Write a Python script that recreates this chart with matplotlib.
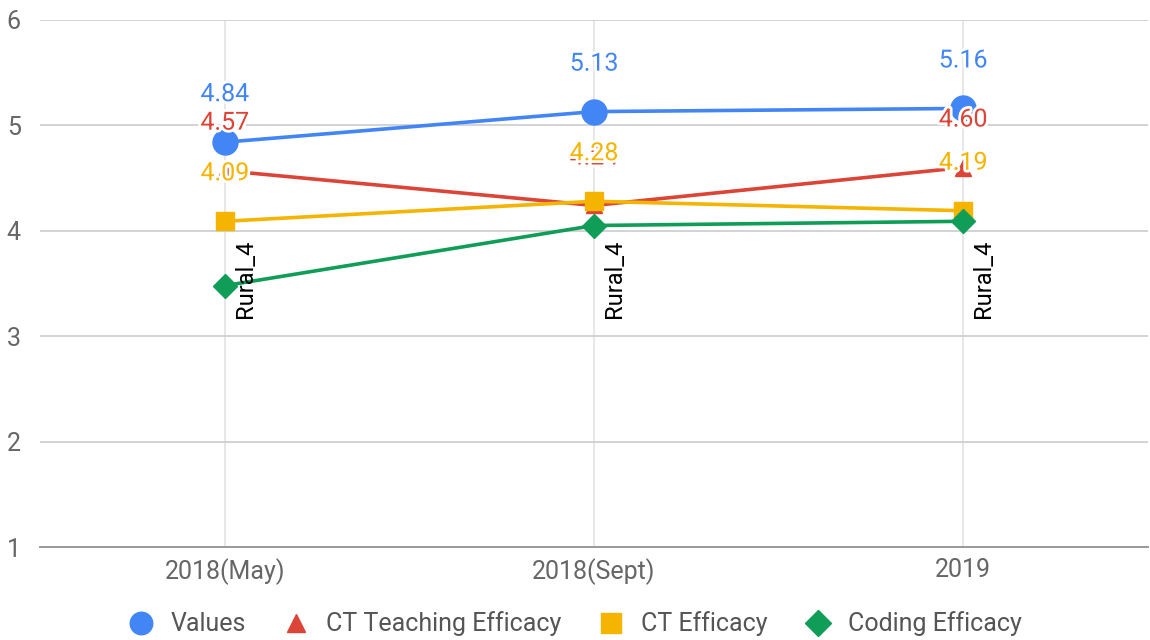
import matplotlib.pyplot as plt
import matplotlib.patheffects as pe
from matplotlib.lines import Line2D
import numpy as np

plt.rcParams['font.family'] = ['Roboto', 'DejaVu Sans']

## data

periods = ['2018(May)', '2018(Sept)', '2019']
values = [4.84, 5.13, 5.16]
ct_teaching = [4.57, 4.24, 4.60]
ct_efficacy = [4.09, 4.28, 4.19]
coding = [3.48, 4.05, 4.09]
coding_labels = ['Rural_4', 'Rural_4', 'Rural_4']

series = [
    ('Values', values, '#4285F4', 'o', 18),
    ('CT Teaching Efficacy', ct_teaching, '#DB4437', '^', 12),
    ('CT Efficacy', ct_efficacy, '#F4B400', 's', 13),
    ('Coding Efficacy', coding, '#0F9D58', 'D', 12),
]

fig = plt.figure(figsize=(11.5, 6.4), dpi=100)
ax = fig.add_axes([0.035, 0.145, 0.963, 0.824])

x = np.arange(len(periods))

for name, vals, col, mk, ms in series:
    ax.plot(x, vals, color=col, lw=2.6, marker=mk, ms=ms, zorder=3)

## value labels (coding efficacy gets the rural tag instead)
halo = [pe.withStroke(linewidth=4, foreground='white')]
for name, vals, col, mk, ms in series[:3]:
    for xi, v in zip(x, vals):
        ax.annotate(f'{v:.2f}', (xi, v), xytext=(0, 48), textcoords='offset pixels',
                    ha='center', va='center', fontsize=18, color=col,
                    path_effects=halo, zorder=5)

for xi, lab in zip(x, coding_labels):
    ax.text(xi + 0.055, 3.92, lab, rotation=90, ha='center', va='top',
            fontsize=17, color='black', zorder=6)

## axes config
ax.set_xlim(-0.5, 2.5)
ax.set_ylim(1, 6)
ax.set_yticks([1, 2, 3, 4, 5, 6])
ax.set_xticks(x)
ax.set_xticklabels(periods)
ax.grid(True, color='#cccccc', lw=1.2)
ax.grid(True, axis='x', color='#e3e3e3', lw=1.2)
ax.set_axisbelow(True)
for s in ['top', 'right', 'left']:
    ax.spines[s].set_visible(False)
ax.spines['bottom'].set_color('#999999')
ax.spines['bottom'].set_linewidth(1.4)
ax.tick_params(length=0, labelsize=18, colors='#666666', pad=8)
ax.tick_params(axis='y', pad=14)

handles = [Line2D([], [], ls='none', marker=mk, color=col, ms=ms * 0.9 if mk == 'o' else ms * 1.1)
           for name, vals, col, mk, ms in series]
fig.legend(handles, [s[0] for s in series], loc='center', bbox_to_anchor=(0.5, 1 - 624 / 640),
           ncol=4, frameon=False, fontsize=18, handlelength=1.0, handletextpad=0.7,
           columnspacing=1.5, labelcolor='#555555')

plt.savefig('out.png')
